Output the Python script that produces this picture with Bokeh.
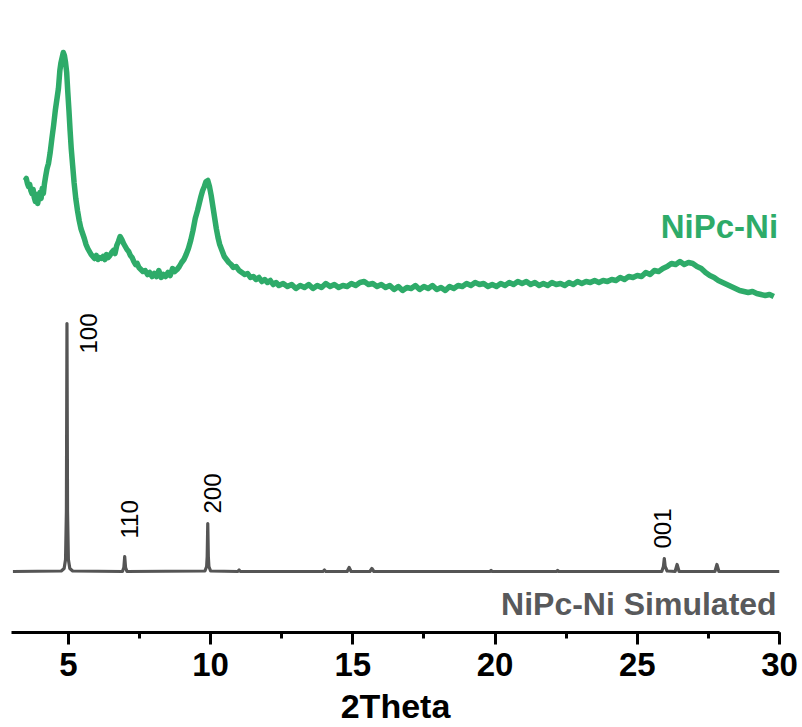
import math
from bokeh.plotting import figure
from bokeh.models import Range1d, SingleIntervalTicker, ColumnDataSource
from bokeh.core.properties import value
from bokeh.embed import file_html
from bokeh.resources import INLINE

# ---- data (intensities in arbitrary units; simulated baseline = 0) ----
exp_x = [3.48, 3.52, 3.56, 3.60, 3.64, 3.68, 3.72, 3.76, 3.80, 3.84, 3.88, 3.92, 3.96, 4.00, 4.04, 4.08, 4.12,
         4.16, 4.20, 4.25, 4.30, 4.36, 4.42, 4.48, 4.54, 4.60, 4.65, 4.70, 4.74, 4.78, 4.82, 4.86, 4.90, 4.94,
         4.98, 5.02, 5.06, 5.10, 5.15, 5.20, 5.26, 5.32, 5.38, 5.44, 5.50, 5.56, 5.62, 5.68, 5.74, 5.80, 5.86,
         5.92, 5.98, 6.04, 6.10, 6.16, 6.22, 6.28, 6.34, 6.40, 6.46, 6.52, 6.58, 6.64, 6.70, 6.76, 6.82, 6.88,
         6.94, 7.00, 7.06, 7.12, 7.18, 7.24, 7.30, 7.36, 7.42, 7.48, 7.55, 7.62, 7.70, 7.78, 7.86, 7.94, 8.02,
         8.10, 8.18, 8.26, 8.34, 8.42, 8.50, 8.58, 8.66, 8.74, 8.82, 8.90, 8.98, 9.06, 9.14, 9.22, 9.30, 9.38,
         9.46, 9.54, 9.60, 9.66, 9.72, 9.78, 9.84, 9.90, 9.96, 10.02, 10.08, 10.14, 10.20, 10.26, 10.32, 10.40,
         10.48, 10.56, 10.64, 10.72, 10.80, 10.90, 11.00, 11.10, 11.20, 11.30, 11.40, 11.50, 11.60, 11.70, 11.80,
         11.90, 12.00, 12.10, 12.20, 12.30, 12.40, 12.55, 12.70, 12.85, 13.00, 13.15, 13.30, 13.45, 13.60, 13.75,
         13.90, 14.05, 14.20, 14.35, 14.50, 14.65, 14.80, 14.95, 15.10, 15.25, 15.40, 15.55, 15.70, 15.85, 16.00,
         16.15, 16.30, 16.45, 16.60, 16.75, 16.90, 17.05, 17.20, 17.35, 17.50, 17.65, 17.80, 17.95, 18.10, 18.25,
         18.40, 18.55, 18.70, 18.85, 19.00, 19.15, 19.30, 19.45, 19.60, 19.75, 19.90, 20.05, 20.20, 20.35, 20.50,
         20.65, 20.80, 20.95, 21.10, 21.25, 21.40, 21.55, 21.70, 21.85, 22.00, 22.15, 22.30, 22.45, 22.60, 22.75,
         22.90, 23.05, 23.20, 23.35, 23.50, 23.65, 23.80, 23.95, 24.10, 24.25, 24.40, 24.55, 24.70, 24.85, 25.00,
         25.15, 25.30, 25.45, 25.60, 25.75, 25.90, 26.05, 26.20, 26.35, 26.50, 26.65, 26.80, 26.95, 27.10, 27.25,
         27.40, 27.55, 27.70, 27.85, 28.00, 28.15, 28.30, 28.45, 28.60, 28.75, 28.90, 29.05, 29.20, 29.35, 29.50,
         29.65, 29.80]
exp_y = [391, 393, 388, 385, 387, 381, 378, 382, 374, 370, 377, 368, 375, 379, 373, 383, 378,
         388, 395, 403, 408, 419, 433, 446, 461, 473, 483, 501, 509, 514, 519, 516, 509, 499,
         479, 461, 441, 423, 406, 389, 373, 361, 351, 343, 338, 333, 327, 323, 320, 317, 315,
         313, 316, 312, 314, 313, 315, 312, 317, 314, 316, 319, 321, 318, 326, 330, 335, 332,
         328, 325, 322, 320, 316, 314, 310, 307, 308, 304, 302, 300, 301, 297, 299, 295, 298,
         295, 301, 294, 297, 295, 299, 296, 303, 300, 302, 305, 309, 312, 317, 323, 331, 341,
         353, 361, 368, 375, 381, 385, 390, 391, 385, 376, 365, 354, 343, 334, 327, 321,
         315, 312, 309, 307, 304, 305, 301, 299, 297, 298, 294, 295, 292, 294, 290,
         292, 289, 291, 287, 289, 286, 288, 285, 287, 283, 286, 284, 287, 283, 286,
         284, 288, 285, 287, 284, 286, 285, 288, 286, 289, 290, 287, 288, 285, 287,
         284, 286, 282, 285, 281, 284, 283, 286, 282, 285, 283, 286, 282, 284, 281,
         285, 283, 286, 285, 288, 286, 289, 287, 288, 285, 287, 285, 288, 286, 289,
         287, 290, 288, 290, 287, 289, 286, 288, 286, 289, 287, 288, 286, 289, 287,
         290, 288, 290, 289, 291, 289, 291, 290, 292, 291, 294, 292, 295, 294, 296,
         295, 299, 297, 301, 300, 303, 305, 308, 307, 310, 307, 309, 308, 305, 303,
         299, 296, 294, 291, 289, 287, 285, 283, 281, 280, 279, 280, 278, 277, 276,
         277, 275]

sim_x = [3.05, 4.75, 4.85, 4.90, 4.93, 4.95, 4.97, 5.00, 5.05, 5.15,
         6.90, 6.95, 6.98, 7.01, 7.06,
         9.80, 9.86, 9.88, 9.90, 9.92, 9.94, 10.00,
         10.95, 11.00, 11.05, 13.95, 14.00, 14.05, 14.80, 14.87, 14.94,
         15.60, 15.67, 15.74, 19.82, 19.86, 19.90, 22.16, 22.20, 22.24,
         25.86, 25.92, 25.95, 25.98, 26.05, 26.33, 26.40, 26.47,
         27.73, 27.80, 27.87, 30.00]
sim_y = [0, 0.5, 3, 12, 60, 248, 60, 12, 3, 0.5,
         0, 4, 15, 4, 0,
         0.5, 5, 15, 48, 15, 5, 0.5,
         0, 1.5, 0, 0, 1.5, 0, 0, 4, 0,
         0, 3, 0, 0, 1, 0, 0, 1, 0,
         0, 5, 13, 5, 0.5, 0, 7, 0,
         0, 7, 0, 0]

peak_labels = ["100", "110", "200", "001"]
peak_label_x = [5.70, 7.15, 10.07, 25.88]
peak_label_y = [218, 33, 58, 23]

series_names = ["NiPc-Ni", "NiPc-Ni Simulated"]
series_label_x = [29.95, 29.9]
series_label_y = [345, -32]

x_ticks_interval = 5

GREEN = "#2eab69"
GRAY = "#555555"

p = figure(frame_width=768, frame_height=632, output_backend="svg", toolbar_location=None,
           x_range=Range1d(3, 30), y_range=Range1d(-61, 571),
           y_axis_location=None, min_border_left=11, min_border_right=23,
           min_border_top=0, min_border_bottom=0)
p.outline_line_color = None
p.xgrid.visible = False
p.ygrid.visible = False
p.background_fill_color = "white"
p.border_fill_color = "white"

p.line(exp_x, exp_y, line_color=GREEN, line_width=5.5, line_join="round")
p.line(sim_x, sim_y, line_color=GRAY, line_width=3.2, line_join="round")

src = ColumnDataSource(dict(x=peak_label_x, y=peak_label_y, t=peak_labels))
p.text(x="x", y="y", text="t", source=src, angle=math.pi / 2, text_align="left",
       text_baseline="middle", text_font=value("Liberation Sans"), text_font_size="24px",
       text_color="black")

p.text(x=[series_label_x[0]], y=[series_label_y[0]], text=[series_names[0]], text_align="right",
       text_baseline="middle", text_font=value("Liberation Sans"), text_font_style="bold",
       text_font_size="33px", text_color=GREEN)
p.text(x=[series_label_x[1]], y=[series_label_y[1]], text=[series_names[1]], text_align="right",
       text_baseline="middle", text_font=value("Liberation Sans"), text_font_style="bold",
       text_font_size="32px", text_color="#58595b")

ax = p.xaxis[0]
ax.ticker = SingleIntervalTicker(interval=x_ticks_interval, num_minor_ticks=2)
ax.axis_label = "2Theta"
ax.axis_line_width = 3
ax.axis_line_color = "black"
ax.major_tick_line_width = 3
ax.major_tick_line_color = "black"
ax.major_tick_out = 12
ax.major_tick_in = 0
ax.minor_tick_line_width = 3
ax.minor_tick_line_color = "black"
ax.minor_tick_out = 6
ax.minor_tick_in = 0
ax.major_label_text_font = "Liberation Sans"
ax.major_label_text_font_style = "bold"
ax.major_label_text_font_size = "33px"
ax.major_label_text_color = "black"
ax.major_label_standoff = 8
ax.axis_label_text_font = "Liberation Sans"
ax.axis_label_text_font_style = "bold"
ax.axis_label_text_font_size = "34px"
ax.axis_label_text_color = "black"
ax.axis_label_standoff = 8

open("out.html", "w").write(file_html(p, INLINE))
